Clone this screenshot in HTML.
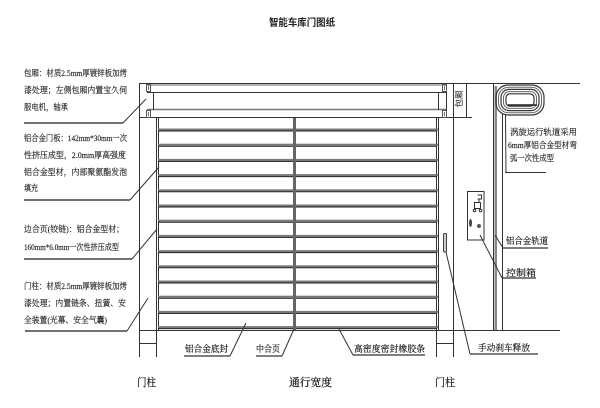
<!DOCTYPE html>
<html><head><meta charset="utf-8">
<style>
html,body{margin:0;padding:0;background:#fff;}
svg{display:block;}
.t{font-family:"Liberation Serif","Noto Serif CJK SC",serif;font-size:8.5px;fill:#222;stroke:#222;stroke-width:0.15;}
.s{font-family:"Liberation Serif","Noto Serif CJK SC",serif;font-size:9px;fill:#111;stroke:#111;stroke-width:0.15;}
.m{font-family:"Liberation Serif","Noto Serif CJK SC",serif;font-size:11px;fill:#111;stroke:#111;stroke-width:0.2;}
</style></head><body>
<svg width="600" height="408" viewBox="0 0 600 408" xmlns="http://www.w3.org/2000/svg">
<rect width="600" height="408" fill="#fff"/>
<text x="302" y="26" text-anchor="middle" font-family="Liberation Sans, Noto Sans CJK SC, sans-serif" font-weight="bold" font-size="10" fill="#222" textLength="66" lengthAdjust="spacingAndGlyphs">智能车库门图纸</text>

<g stroke="#333" stroke-width="1" fill="none">
  <line x1="139" y1="83.5" x2="580" y2="83.5"/>
  <line x1="147" y1="85" x2="446" y2="85" stroke="#999" stroke-width="1.5"/>
  <line x1="147" y1="92.5" x2="446" y2="92.5"/>
  <line x1="147" y1="109.5" x2="446" y2="109.5" stroke="#777" stroke-width="1.5"/>
  <line x1="139" y1="117.5" x2="472" y2="117.5"/>
  <line x1="153.5" y1="92" x2="153.5" y2="110"/>
  <line x1="438.5" y1="92" x2="438.5" y2="110"/>
  <line x1="446.5" y1="83" x2="446.5" y2="118"/>
  <line x1="466.5" y1="83" x2="466.5" y2="118"/>
  <rect x="146.5" y="84.5" width="4" height="7" stroke="#555"/>
  <rect x="146.5" y="110.5" width="4" height="7" stroke="#555"/>
  <rect x="442.5" y="84.5" width="4" height="7" stroke="#555"/>
  <rect x="442.5" y="110.5" width="4" height="7" stroke="#555"/>
  <line x1="148.5" y1="86" x2="148.5" y2="90" stroke="#777"/>
  <line x1="148.5" y1="112" x2="148.5" y2="116" stroke="#777"/>
  <line x1="444.5" y1="86" x2="444.5" y2="90" stroke="#777"/>
  <line x1="444.5" y1="112" x2="444.5" y2="116" stroke="#777"/>

  <line x1="139.5" y1="83" x2="139.5" y2="357"/>
  <line x1="156.5" y1="118" x2="156.5" y2="357"/>
  <line x1="158.5" y1="118" x2="158.5" y2="330"/>
  <line x1="436.5" y1="118" x2="436.5" y2="357"/>
  <line x1="438.5" y1="118" x2="438.5" y2="330"/>
  <line x1="453.5" y1="83" x2="453.5" y2="357"/>
  <line x1="139" y1="330.5" x2="560" y2="330.5"/>
  <line x1="139" y1="343.5" x2="156" y2="343.5"/>
  <line x1="437" y1="343.5" x2="453" y2="343.5"/>

  <line x1="493.5" y1="83" x2="493.5" y2="330"/>
  <line x1="502.5" y1="114" x2="502.5" y2="330"/>
</g>
<rect x="494.5" y="86" width="2.5" height="244" fill="#888"/>

<g>
  <g fill="#7a7a7a">
    <rect x="158" y="128.5" width="280" height="2"/>
    <rect x="158" y="143.7" width="280" height="2"/>
    <rect x="158" y="158.9" width="280" height="2"/>
    <rect x="158" y="174.1" width="280" height="2"/>
    <rect x="158" y="189.3" width="280" height="2"/>
    <rect x="158" y="204.5" width="280" height="2"/>
    <rect x="158" y="219.7" width="280" height="2"/>
    <rect x="158" y="234.9" width="280" height="2"/>
    <rect x="158" y="250.1" width="280" height="2"/>
    <rect x="158" y="265.3" width="280" height="2"/>
    <rect x="158" y="280.5" width="280" height="2"/>
    <rect x="158" y="295.7" width="280" height="2"/>
    <rect x="158" y="310.9" width="280" height="2"/>
    <rect x="158" y="326.1" width="280" height="2"/>
  </g>
  <g stroke="#1a1a1a" stroke-width="1">
    <line x1="158" x2="437" y1="131" y2="131"/>
    <line x1="158" x2="437" y1="146.2" y2="146.2"/>
    <line x1="158" x2="437" y1="161.4" y2="161.4"/>
    <line x1="158" x2="437" y1="176.6" y2="176.6"/>
    <line x1="158" x2="437" y1="191.8" y2="191.8"/>
    <line x1="158" x2="437" y1="207" y2="207"/>
    <line x1="158" x2="437" y1="222.2" y2="222.2"/>
    <line x1="158" x2="437" y1="237.4" y2="237.4"/>
    <line x1="158" x2="437" y1="252.6" y2="252.6"/>
    <line x1="158" x2="437" y1="267.8" y2="267.8"/>
    <line x1="158" x2="437" y1="283" y2="283"/>
    <line x1="158" x2="437" y1="298.2" y2="298.2"/>
    <line x1="158" x2="437" y1="313.4" y2="313.4"/>
    <line x1="158" x2="437" y1="328.6" y2="328.6"/>
  </g>
</g>
<rect x="293" y="118" width="3" height="212" fill="#666"/>

<text class="t" transform="translate(462,99) rotate(-90)" text-anchor="middle" textLength="17" lengthAdjust="spacingAndGlyphs">包厢</text>

<g fill="none">
  <rect x="496" y="85" width="48" height="30" rx="12" stroke="#333" stroke-width="1.2"/>
  <rect x="498.5" y="87.2" width="43" height="25.6" rx="10" stroke="#666" stroke-width="1"/>
  <rect x="501" y="89.4" width="38" height="21.2" rx="8" stroke="#333" stroke-width="1.2"/>
  <rect x="503.5" y="91.6" width="33" height="16.8" rx="6" stroke="#666" stroke-width="1"/>
  <rect x="506" y="93.8" width="28" height="12.4" rx="4" stroke="#333" stroke-width="1.2"/>
  <line x1="508" y1="105" x2="537" y2="105" stroke="#222" stroke-width="1.5"/>
</g>
<g stroke="#333" stroke-width="1" fill="none">
  <line x1="505.5" y1="114" x2="506" y2="172.5"/>
  <line x1="505" y1="172.5" x2="546" y2="172.5"/>
</g>
<text class="t" x="510" y="135" textLength="67" lengthAdjust="spacingAndGlyphs">涡旋运行轨道采用</text>
<text class="t" x="508" y="148" textLength="69" lengthAdjust="spacingAndGlyphs">6mm厚铝合金型材弯</text>
<text class="t" x="510" y="161" textLength="44" lengthAdjust="spacingAndGlyphs">弧一次性成型</text>

<g stroke="#333" stroke-width="1" fill="none">
  <rect x="467.5" y="191.5" width="16.5" height="48.5"/>
  <path d="M477.5 195 h4 v4 h-4 M479 199 v3"/>
  <rect x="474.5" y="202.5" width="6" height="6"/>
  <circle cx="474.5" cy="210.5" r="1.3"/>
  <circle cx="480.5" cy="210.5" r="1.3"/>
</g>
<ellipse cx="470.5" cy="223" rx="1.5" ry="4" fill="#444"/>
<circle cx="479" cy="226" r="2" fill="#555"/>

<rect x="443.5" y="233.5" width="3" height="18.5" rx="1" fill="#ccc" stroke="#444" stroke-width="1"/>

<g stroke="#444" stroke-width="1.6" fill="none">
  <line x1="24" y1="123" x2="123" y2="123"/>
  <line x1="24" y1="200" x2="130" y2="200"/>
  <line x1="24" y1="259" x2="132" y2="259"/>
  <line x1="25" y1="331" x2="127" y2="331"/>
</g>
<g stroke="#333" stroke-width="1" fill="none">
  <line x1="123" y1="123" x2="146" y2="99"/>
  <line x1="130" y1="200" x2="159" y2="167"/>
  <line x1="132" y1="259" x2="157" y2="229"/>
  <line x1="127" y1="331" x2="148" y2="298"/>
  <line x1="230" y1="356" x2="246" y2="323"/>
  <line x1="282" y1="356" x2="294" y2="329"/>
  <line x1="339" y1="329" x2="353" y2="355"/>
  <line x1="446" y1="252" x2="470" y2="354"/>
  <line x1="495" y1="235" x2="503" y2="248"/>
  <line x1="480" y1="235" x2="502" y2="278"/>
</g>
<g stroke="#333" stroke-width="1.3" fill="none">
  <line x1="184" y1="356" x2="230" y2="356"/>
  <line x1="256" y1="356" x2="282" y2="356"/>
  <line x1="353" y1="355" x2="425" y2="355"/>
  <line x1="470" y1="354" x2="538" y2="354"/>
  <line x1="503" y1="248" x2="548" y2="248"/>
  <line x1="502" y1="278" x2="536" y2="278"/>
</g>

<text class="t" x="24" y="76" textLength="103" lengthAdjust="spacingAndGlyphs">包厢：材质2.5mm厚镀锌板加烤</text>
<text class="t" x="24" y="93" textLength="103" lengthAdjust="spacingAndGlyphs">漆处理；左侧包厢内置宝久伺</text>
<text class="t" x="24" y="110" textLength="44" lengthAdjust="spacingAndGlyphs">服电机，轴承</text>
<text class="t" x="24" y="141" textLength="103" lengthAdjust="spacingAndGlyphs">铝合金门板：142mm*30mm一次</text>
<text class="t" x="24" y="158" textLength="102" lengthAdjust="spacingAndGlyphs">性挤压成型，2.0mm厚高强度</text>
<text class="t" x="24" y="175" textLength="103" lengthAdjust="spacingAndGlyphs">铝合金型材，内部聚氨酯发泡</text>
<text class="t" x="24" y="191" textLength="14" lengthAdjust="spacingAndGlyphs">填充</text>
<text class="t" x="24" y="232" textLength="100" lengthAdjust="spacingAndGlyphs">边合页(铰链)：铝合金型材；</text>
<text class="t" x="24" y="250" textLength="95" lengthAdjust="spacingAndGlyphs">160mm*6.0mm一次性挤压成型</text>
<text class="t" x="24" y="289" textLength="103" lengthAdjust="spacingAndGlyphs">门柱：材质2.5mm厚镀锌板加烤</text>
<text class="t" x="24" y="306" textLength="102" lengthAdjust="spacingAndGlyphs">漆处理；内置链条、扭簧、安</text>
<text class="t" x="24" y="323" textLength="83" lengthAdjust="spacingAndGlyphs">全装置(光幕、安全气囊)</text>

<text class="s" x="185" y="352" textLength="43" lengthAdjust="spacingAndGlyphs">铝合金底封</text>
<text class="s" x="256" y="352" textLength="24" lengthAdjust="spacingAndGlyphs">中合页</text>
<text class="s" x="354" y="352" textLength="71" lengthAdjust="spacingAndGlyphs">高密度密封橡胶条</text>
<text class="s" x="478" y="351" textLength="52" lengthAdjust="spacingAndGlyphs">手动刹车释放</text>
<text class="s" x="506" y="244" textLength="42" lengthAdjust="spacingAndGlyphs">铝合金轨道</text>
<text class="s" x="506" y="276" textLength="30" lengthAdjust="spacingAndGlyphs">控制箱</text>

<text class="m" x="137" y="386" textLength="19" lengthAdjust="spacingAndGlyphs">门柱</text>
<text class="m" x="289" y="386" textLength="43" lengthAdjust="spacingAndGlyphs">通行宽度</text>
<text class="m" x="435" y="386" textLength="20" lengthAdjust="spacingAndGlyphs">门柱</text>
</svg>
</body></html>
